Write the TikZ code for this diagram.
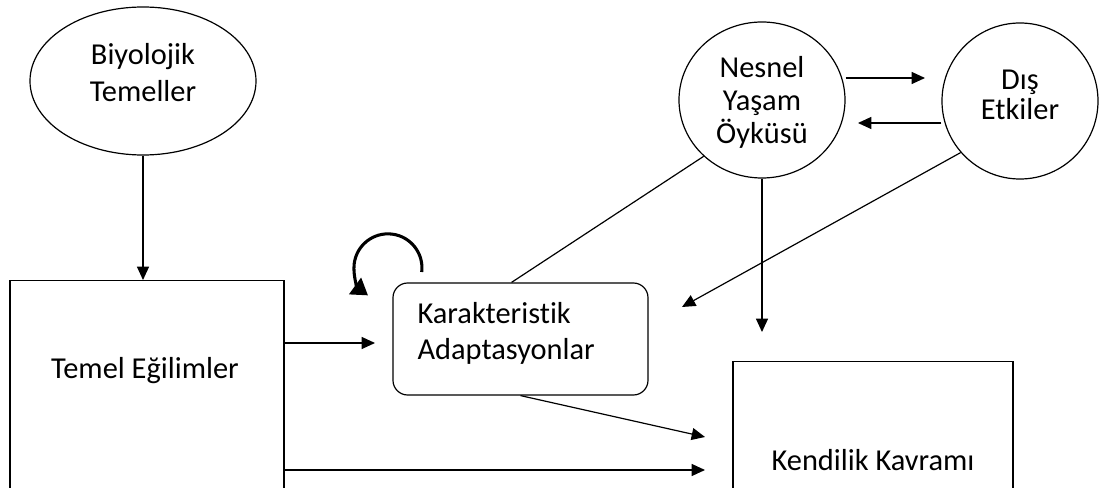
\documentclass[tikz,border=0pt]{standalone}
\usepackage{fontspec}
\setmainfont{Carlito}[Ligatures=CommonOff]
\usetikzlibrary{arrows.meta,shapes.geometric}

\tikzset{every picture/.style={line width=0.9pt}}
\tikzset{
  arr/.style={-{Triangle[length=10pt,width=9pt]}},
  boxshape/.style={draw,rectangle,inner sep=0pt},
  txt/.style={inner sep=0.75pt,align=center},
  lead/.style={font=\fontsize{22.8}{#1}\selectfont}
}

\begin{document}
\begin{tikzpicture}[x=0.75pt,y=0.75pt,yscale=-1,xscale=1]
\useasboundingbox (0,0) rectangle (1101,488);
\clip (0,0) rectangle (1101,488);

% Ellipses
\node (bio) [draw,ellipse,minimum width=169.5pt,minimum height=111pt,inner sep=0pt] at (143,81) {};
\node (nesnel) [draw,ellipse,minimum width=124.5pt,minimum height=117pt,inner sep=0pt] at (762,100) {};
\node (dis) [draw,circle,minimum size=117pt,inner sep=0pt] at (1020,101) {};

% Boxes
\node (temel) [boxshape,minimum width=205.5pt,minimum height=180pt,anchor=north] at (147,280) {};
\node (karak) [draw,rounded corners=11pt,minimum width=191.25pt,minimum height=84pt] at (520.5,339) {};
\node (kend) [boxshape,minimum width=210pt,minimum height=150pt,anchor=north] at (873,361) {};

% Text Nodes
\node (biotxt) [txt,lead=27.75] at (143,73) {Biyolojik\\Temeller};
\node (nesneltxt) [txt,lead=24.75] at (762,102) {Nesnel\\Yaşam\\Öyküsü};
\node (distxt) [txt,lead=22.5] at (1020,95) {Dış\\Etkiler};
\node (temeltxt) [txt,lead=27] at (145,371) {Temel Eğilimler};
\node (karaktxt) [txt,lead=27,align=left,anchor=west] at (416,333.5) {Karakteristik\\Adaptasyonlar};
\node (kendtxt) [txt,lead=27] at (873,460) {Kendilik Kavramı};

% Free ends
\coordinate (karakin) at (375,343);
\coordinate (kendin1) at (705,437);
\coordinate (kendin2) at (705,470);
\coordinate (nesnelend) at (762,332);
\coordinate (disend) at (682,307);
\coordinate (disin) at (925,78);
\coordinate (nesnelin) at (858,123);
\coordinate (loopstart) at (421.7,272);

% Connectors
\draw [arr] (bio.south) -- (bio.south |- temel.north);
\draw [arr] (temel.east |- karakin) -- (karakin);
\draw [arr] (temel.east |- kendin2) -- (kendin2);
\draw [arr] (karak.south) -- (kendin1);
\draw (nesnel.224) -- (karak.99);
\draw [arr] (nesnel.south) -- (nesnelend);
\draw [arr] (dis.221) -- (disend);
\draw [arr] (nesnel.east |- disin) -- (disin);
\draw [arr] (dis.west |- nesnelin) -- (nesnelin);

% Loop
\draw [line width=2.3pt,-{Triangle[length=12pt,width=15pt]}] (loopstart) arc[start angle=7,end angle=-234,radius=34];

\end{tikzpicture}
\end{document}
